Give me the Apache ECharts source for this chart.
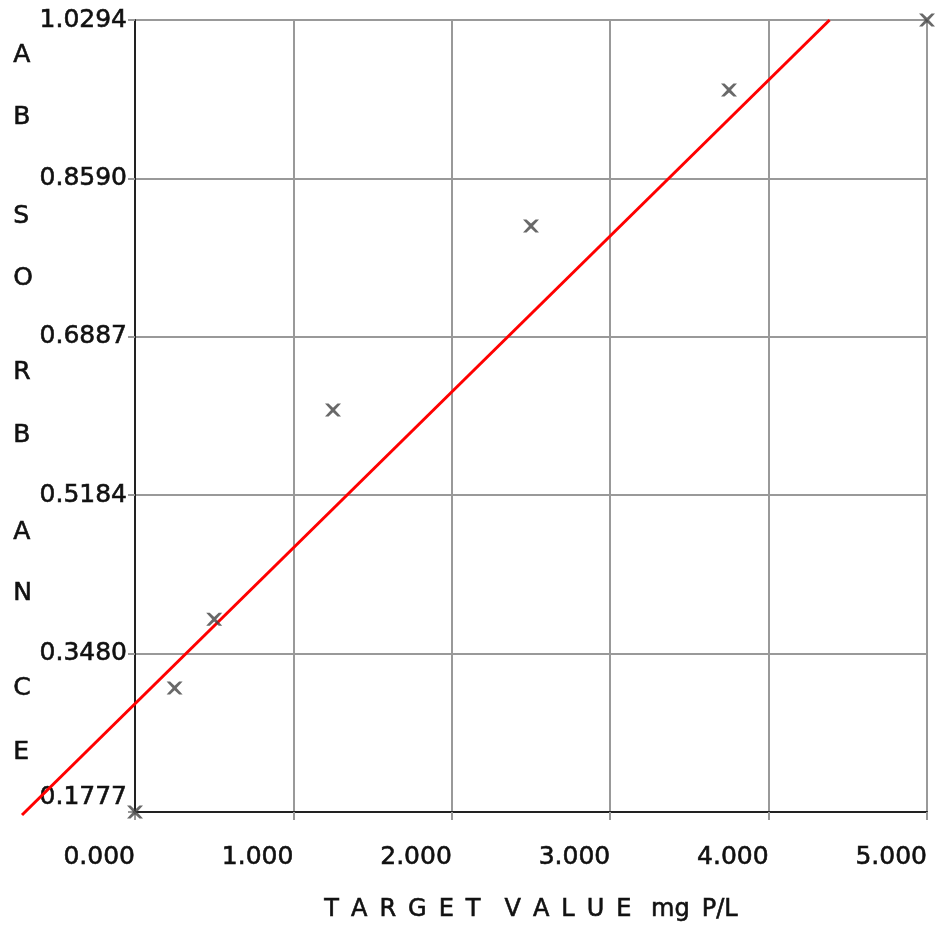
<!DOCTYPE html>
<html>
<head>
<meta charset="utf-8">
<title>ABSORBANCE vs TARGET VALUE</title>
<script src="https://cdn.jsdelivr.net/npm/echarts/dist/echarts.min.js"></script>
<style>
  html, body { margin: 0; padding: 0; background: #fff; }
  #main { width: 940px; height: 932px; }
</style>
</head>
<body>
<div id="main"></div>
<script>
// 标准点 (mg P/L , 吸光度)
var targetVals = [0, 0.25, 0.5, 1.25, 2.5, 3.75, 5.0];
var absVals = [0.1777, 0.311, 0.385, 0.610, 0.808, 0.954, 1.0294];
// 拟合线两端
var fitLine = [[-0.715, 0.1745], [4.385, 1.0294]];
// y轴刻度
var yMin = 0.1777, yMax = 1.0294, yStep = 0.17034;
var yTickLabels = ['0.1777', '0.3480', '0.5184', '0.6887', '0.8590', '1.0294'];
var xTicks = [0, 1, 2, 3, 4, 5];
var yTitle = ['A', 'B', 'S', 'O', 'R', 'B', 'A', 'N', 'C', 'E'];
var yTitlePos = [57, 119, 218, 280, 374, 437, 534, 595, 690, 754];

var chart = echarts.init(document.getElementById('main'), null, { renderer: 'canvas' });
var font = 'DejaVu Sans';
var txt = '#111';
// 字稍微加粗一点
var heavy = { textBorderColor: '#111', textBorderWidth: 0.6 };

var option = {
  backgroundColor: '#fff',
  animation: false,
  grid: [
    { left: 135, right: 13, top: 20, bottom: 120 },
    // 拟合线用的外层网格, 线会伸出坐标区
    { left: 22, right: 13, top: 20, bottom: 117 }
  ],
  xAxis: [{
    type: 'value',
    gridIndex: 0,
    min: xTicks[0],
    max: xTicks[xTicks.length - 1],
    interval: 1,
    name: 'T\u2002A\u2002R\u2002G\u2002E\u2002T\u2002\u2002V\u2002A\u2002L\u2002U\u2002E\u2002 mg\u2002P/L',
    nameLocation: 'middle',
    nameGap: 86,
    nameTextStyle: Object.assign({ fontFamily: font, fontSize: 24, color: txt }, heavy),
    axisLine: { onZero: false, lineStyle: { color: '#222', width: 2 } },
    axisTick: { show: true, length: 8, lineStyle: { color: '#999', width: 2 } },
    axisLabel: Object.assign({
      margin: 33, align: 'right', fontFamily: font, fontSize: 25, color: txt,
      formatter: function (v) { return v.toFixed(3); }
    }, heavy),
    splitLine: { show: true, lineStyle: { color: '#999', width: 2 } }
  }, {
    type: 'value',
    gridIndex: 1,
    min: fitLine[0][0],
    max: xTicks[xTicks.length - 1],
    show: false
  }],
  yAxis: [{
    type: 'value',
    gridIndex: 0,
    min: yMin,
    max: yMax,
    interval: yStep,
    axisLine: { onZero: false, lineStyle: { color: '#222', width: 2 } },
    axisTick: { show: true, length: 7, lineStyle: { color: '#999', width: 2 } },
    axisLabel: Object.assign({
      margin: 8, fontFamily: font, fontSize: 25, color: txt,
      formatter: function (v, i) {
        var s = yTickLabels[i];
        return i === 0 ? '{low|' + s + '}' : s;
      },
      rich: { low: Object.assign({ fontFamily: font, fontSize: 25, color: txt, padding: [0, 0, 30, 0] }, heavy) }
    }, heavy),
    splitLine: { show: true, lineStyle: { color: '#999', width: 2 } }
  }, {
    type: 'value',
    gridIndex: 1,
    min: fitLine[0][1],
    max: yMax,
    show: false
  }],
  graphic: yTitle.map(function (ch, i) {
    return {
      type: 'text', left: 13, top: yTitlePos[i] - 14,
      style: { text: ch, fontFamily: font, fontSize: 25, fill: txt, stroke: '#111', lineWidth: 0.6 }
    };
  }),
  series: [
    {
      name: 'fit',
      type: 'line',
      xAxisIndex: 1,
      yAxisIndex: 1,
      data: fitLine,
      symbol: 'none',
      lineStyle: { color: '#ff0000', width: 3 },
      z: 3
    },
    {
      name: 'points',
      type: 'scatter',
      data: targetVals.map(function (x, i) { return [x, absVals[i]]; }),
      symbol: 'path://M0,0L3.5,0L8,4.2L12.5,0L16,0L10,6.5L16,13L12.5,13L8,8.8L3.5,13L0,13L6,6.5Z',
      symbolSize: [16, 13],
      clip: false,
      itemStyle: { color: '#444' },
      z: 4
    }
  ]
};
chart.setOption(option);
</script>
</body>
</html>
